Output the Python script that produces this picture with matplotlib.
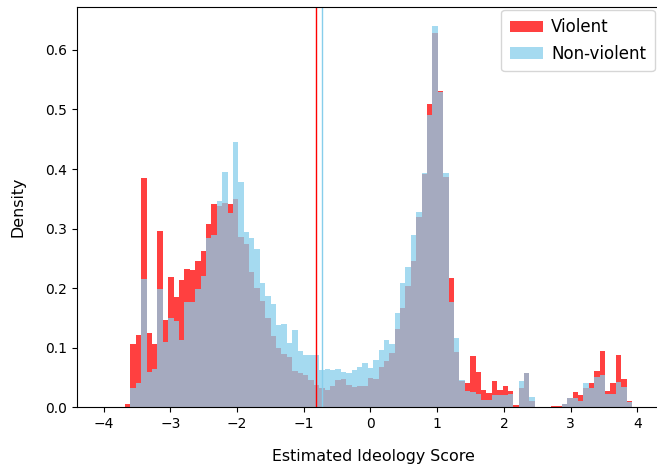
"""Violent vs non-violent ideology score histograms."""

import matplotlib

matplotlib.use("Agg")

import matplotlib.pyplot as plt
import numpy as np

# histogram bins (100 bins starting at -4.0)
bin_start = -4.0
bin_width = 0.0808
n_bins = 100

# density per bin
violent = [
    0, 0, 0, 0, 0.005, 0.106, 0.122, 0.385, 0.125, 0.106,
    0.296, 0.146, 0.219, 0.186, 0.214, 0.232, 0.230, 0.245, 0.263, 0.308,
    0.342, 0.338, 0.343, 0.342, 0.350, 0.286, 0.274, 0.228, 0.201, 0.178,
    0.150, 0.120, 0.099, 0.090, 0.085, 0.061, 0.058, 0.054, 0.046, 0.037,
    0.033, 0.029, 0.036, 0.046, 0.048, 0.038, 0.034, 0.035, 0.035, 0.049,
    0.048, 0.068, 0.077, 0.092, 0.131, 0.167, 0.204, 0.245, 0.319, 0.391,
    0.510, 0.628, 0.531, 0.387, 0.217, 0.093, 0.045, 0.040, 0.086, 0.060,
    0.029, 0.024, 0.045, 0.029, 0.035, 0.027, 0.004, 0.032, 0.058, 0.011,
    0, 0, 0, 0.002, 0.003, 0.0055, 0.016, 0.025, 0.020, 0.033,
    0.040, 0.061, 0.095, 0.028, 0.040, 0.088, 0.047, 0.011, 0, 0,
]
non_violent = [
    0, 0, 0, 0, 0, 0.033, 0.041, 0.216, 0.059, 0.064,
    0.198, 0.110, 0.150, 0.145, 0.113, 0.176, 0.177, 0.198, 0.221, 0.285,
    0.290, 0.347, 0.395, 0.326, 0.445, 0.378, 0.295, 0.285, 0.265, 0.208,
    0.187, 0.173, 0.138, 0.140, 0.108, 0.130, 0.095, 0.088, 0.088, 0.088,
    0.063, 0.064, 0.063, 0.065, 0.060, 0.058, 0.062, 0.068, 0.075, 0.066,
    0.080, 0.097, 0.113, 0.107, 0.158, 0.209, 0.236, 0.289, 0.328, 0.394,
    0.490, 0.640, 0.530, 0.394, 0.177, 0.117, 0.046, 0.028, 0.026, 0.023,
    0.012, 0.013, 0.021, 0.021, 0.021, 0.022, 0, 0.044, 0.058, 0.017,
    0, 0, 0, 0, 0, 0.0055, 0.016, 0.015, 0.011, 0.040,
    0.033, 0.051, 0.055, 0.023, 0.023, 0.043, 0.034, 0.009, 0, 0,
]

# group means (vertical lines)
mean_violent = -0.82
mean_non_violent = -0.73


def plot_ideology(output_path="out.png"):
    edges = bin_start + bin_width * np.arange(n_bins + 1)
    centers = (edges[:-1] + edges[1:]) / 2

    fig = plt.figure(figsize=(6.57, 4.71), dpi=100)
    # right spine falls just outside the picture, as in the reference
    ax = fig.add_axes([0.1165, 0.1352, 0.9028, 0.8499])

    ax.hist(centers, bins=edges, weights=violent, color="red", alpha=0.75, label="Violent")
    ax.hist(centers, bins=edges, weights=non_violent, color="skyblue", alpha=0.75, label="Non-violent")
    ax.axvline(mean_violent, color="red", linewidth=1)
    ax.axvline(mean_non_violent, color="skyblue", linewidth=1)

    ax.set_ylim(0, 0.672)
    ax.set_xlabel("Estimated Ideology Score", fontsize=11.4, labelpad=13)
    ax.set_ylabel("Density", fontsize=11.4, labelpad=14)
    ax.legend(loc="upper right", fontsize=12, bbox_to_anchor=(0.9745, 0.9925),
              borderaxespad=0, handletextpad=0.5, borderpad=0.5)

    fig.savefig(output_path, dpi=100)
    return fig


if __name__ == "__main__":
    fig = plot_ideology()
    plt.close(fig)
